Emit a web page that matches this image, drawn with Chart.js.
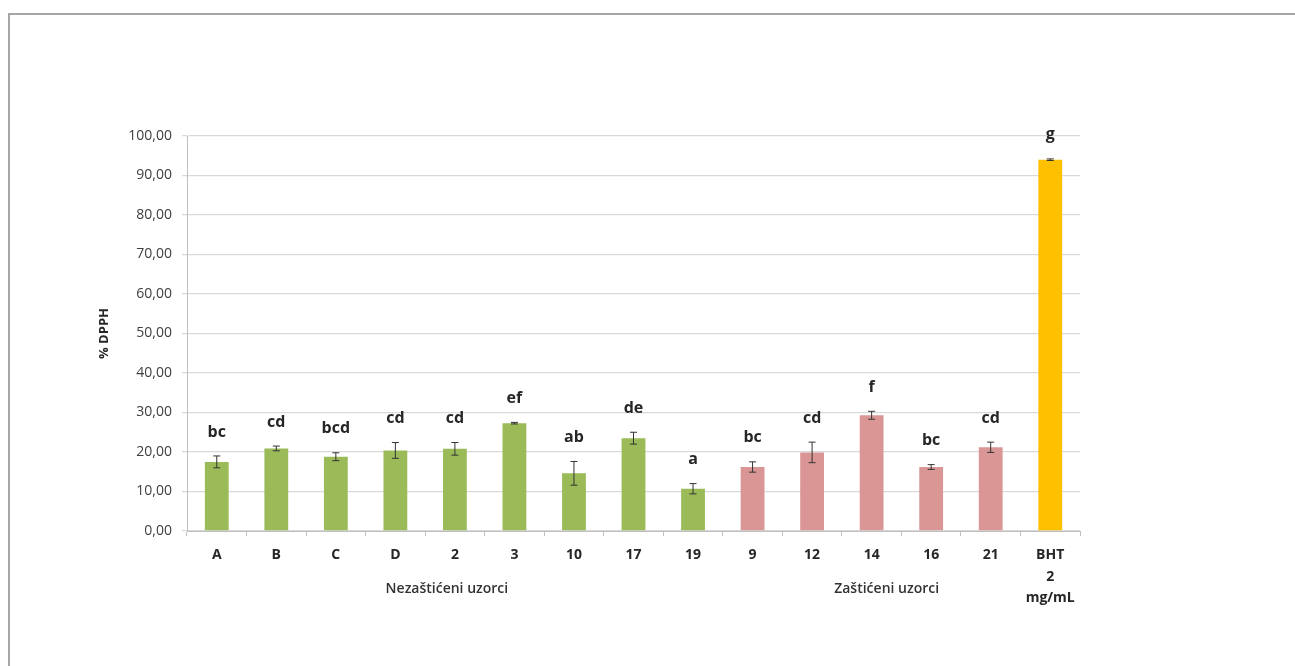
<!DOCTYPE html>
<html>
<head>
<meta charset="utf-8">
<script src="https://cdn.jsdelivr.net/npm/chart.js@4"></script>
<style>
  html, body { margin: 0; padding: 0; background: #fff; }
  #wrap { position: relative; width: 1295px; height: 666px; overflow: hidden; }
  #frame { position: absolute; left: 8px; top: 13px; right: -10px; bottom: -10px;
           border-top: 2px solid #a6a6a6; border-left: 2px solid #a6a6a6; pointer-events: none; }
  canvas { position: absolute; left: 0; top: 0; }
</style>
</head>
<body>
<div id="wrap">
  <canvas id="chart" width="1295" height="666"></canvas>
  <div id="frame"></div>
</div>
<script>
// podaci očitani sa grafika
const categories = ["A", "B", "C", "D", "2", "3", "10", "17", "19", "9", "12", "14", "16", "21", ["BHT", "2", "mg/mL"]];
const dpphValues = [17.5, 20.9, 18.8, 20.4, 20.8, 27.3, 14.6, 23.5, 10.7, 16.2, 19.9, 29.3, 16.2, 21.2, 94.0];
const dpphErrors = [1.5, 0.6, 1.0, 2.0, 1.6, 0.2, 3.0, 1.5, 1.3, 1.3, 2.6, 1.0, 0.6, 1.3, 0.2];
const letters = ["bc", "cd", "bcd", "cd", "cd", "ef", "ab", "de", "a", "bc", "cd", "f", "bc", "cd", "g"];
const groups = ["N", "N", "N", "N", "N", "N", "N", "N", "N", "Z", "Z", "Z", "Z", "Z", "BHT"];
const groupNames = { N: "Nezaštićeni uzorci", Z: "Zaštićeni uzorci" };
const yTicks = [0, 10, 20, 30, 40, 50, 60, 70, 80, 90, 100];

const groupColors = { N: "#9bbb59", Z: "#d99694", BHT: "#ffc000" };
const FONT = "'Open Sans', 'Liberation Sans', sans-serif";

// 1. ERROR BARS + SLOVA + NATPISI GRUPA
const extrasPlugin = {
    id: "extras",
    afterDatasetsDraw(chart) {
        const ctx = chart.ctx;
        const y = chart.scales.y;
        const x = chart.scales.x;
        const meta = chart.getDatasetMeta(0);
        ctx.save();

        meta.data.forEach((bar, i) => {
            const top = y.getPixelForValue(dpphValues[i] + dpphErrors[i]);
            const bot = y.getPixelForValue(dpphValues[i] - dpphErrors[i]);
            ctx.strokeStyle = "#333";
            ctx.lineWidth = 1;
            ctx.beginPath();
            ctx.moveTo(bar.x, top); ctx.lineTo(bar.x, bot);
            ctx.moveTo(bar.x - 3.5, top); ctx.lineTo(bar.x + 3.5, top);
            ctx.moveTo(bar.x - 3.5, bot); ctx.lineTo(bar.x + 3.5, bot);
            ctx.stroke();

            ctx.fillStyle = "#262626";
            ctx.font = "bold 16px " + FONT;
            ctx.textAlign = "center";
            ctx.textBaseline = "middle";
            ctx.fillText(letters[i], bar.x, top - 24);
        });

        // natpisi grupa ispod kategorija
        ctx.font = "600 14px " + FONT;
        ctx.fillStyle = "#333";
        ctx.textAlign = "center";
        ctx.textBaseline = "middle";
        Object.keys(groupNames).forEach(g => {
            const idx = groups.map((v, i) => v === g ? i : -1).filter(i => i >= 0);
            const mid = (x.getPixelForValue(idx[0]) + x.getPixelForValue(idx[idx.length - 1])) / 2;
            ctx.fillText(groupNames[g], mid + (g === "Z" ? 15 : -8), 589);
        });

        // naslov y ose
        ctx.translate(104, (chart.chartArea.top + chart.chartArea.bottom) / 2);
        ctx.rotate(-Math.PI / 2);
        ctx.font = "bold 13px " + FONT;
        ctx.fillStyle = "#262626";
        ctx.fillText("% DPPH", 0, 0);
        ctx.restore();
    }
};

// 2. CRTANJE GRAFIKA
new Chart(document.getElementById("chart"), {
    type: "bar",
    data: {
        labels: categories,
        datasets: [{
            data: dpphValues,
            backgroundColor: groups.map(g => groupColors[g]),
            borderWidth: 0,
            barPercentage: 0.8,
            categoryPercentage: 0.5
        }]
    },
    options: {
        responsive: false,
        animation: false,
        layout: { padding: { left: 90, right: 215, top: 136, bottom: 55 } },
        plugins: { legend: { display: false }, tooltip: { enabled: false } },
        scales: {
            x: {
                grid: { offset: true, drawOnChartArea: false, tickLength: 5, color: "#bfbfbf" },
                border: { color: "#bfbfbf" },
                ticks: {
                    color: "#262626",
                    padding: 8,
                    maxRotation: 0,
                    autoSkip: false,
                    font: { family: FONT, size: 14, weight: "bold", lineHeight: 1.55 }
                },
                afterFit(scale) { scale.height = 80; }
            },
            y: {
                min: 0,
                max: 100,
                afterBuildTicks(scale) { scale.ticks = yTicks.map(v => ({ value: v })); },
                grid: { color: "#d9d9d9", tickLength: 5, lineWidth: 1.3 },
                border: { color: "#bfbfbf" },
                ticks: {
                    color: "#404040",
                    padding: 10,
                    font: { family: FONT, size: 14 },
                    callback: v => v.toFixed(2).replace(".", ",")
                },
                afterFit(scale) { scale.width = 97; }
            }
        }
    },
    plugins: [extrasPlugin]
});
</script>
</body>
</html>
